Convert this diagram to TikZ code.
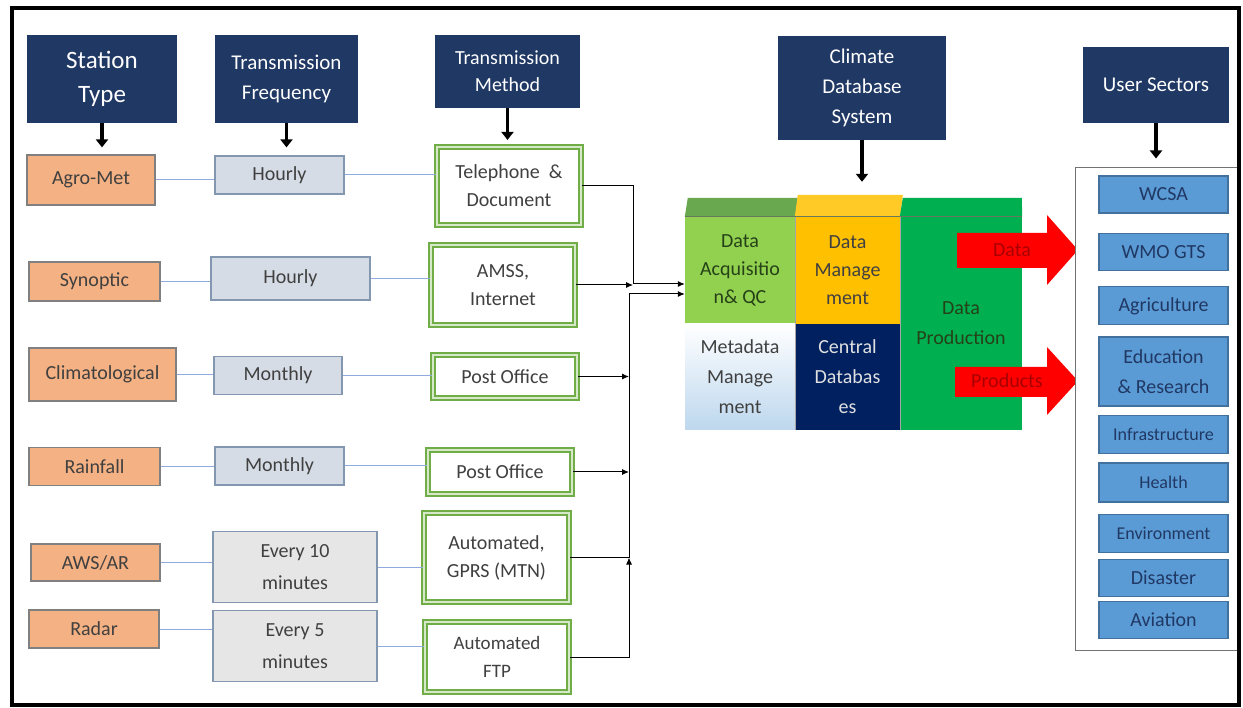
\documentclass[tikz,border=0pt]{standalone}
\usepackage{fontspec}
\setmainfont{Carlito}
\usepackage{tikz}
\usetikzlibrary{positioning,arrows.meta}
\usepackage{xcolor}
\definecolor{navyhd}{HTML}{203864}
\definecolor{stnfill}{HTML}{F4B183}
\definecolor{freqfill}{HTML}{D6DCE5}
\definecolor{freqlite}{HTML}{E7E6E6}
\definecolor{freqline}{HTML}{8497B0}
\definecolor{methgreen}{HTML}{70AD47}
\definecolor{methlite}{HTML}{D5E8C8}
\definecolor{acqgreen}{HTML}{92D050}
\definecolor{acqtop}{HTML}{6AA84F}
\definecolor{acqtext}{HTML}{254117}
\definecolor{mgtgold}{HTML}{FFC000}
\definecolor{prodgreen}{HTML}{00B050}
\definecolor{cdbnavy}{HTML}{002060}
\definecolor{metablue}{HTML}{BDD7EE}
\definecolor{secblue}{HTML}{5B9BD5}
\definecolor{secline}{HTML}{41719C}
\definecolor{linkblue}{HTML}{8FAADC}
\definecolor{txtdark}{HTML}{404040}
\definecolor{arrowred}{HTML}{FF0000}
\definecolor{lblred}{HTML}{A80000}

\begin{document}
\begin{tikzpicture}[x=1pt,y=-1pt,
hdr/.style={rectangle,fill=navyhd,text=white,align=center,inner sep=0pt,font=\fontsize{21}{30}\selectfont},
stn/.style={rectangle,draw=black!50,line width=1.2pt,fill=stnfill,text=txtdark,align=center,inner sep=0pt,font=\fontsize{20}{29}\selectfont},
freq/.style={rectangle,draw=freqline,line width=1.2pt,fill=freqfill,text=txtdark,align=center,inner sep=0pt,font=\fontsize{20}{32}\selectfont},
meth/.style={rectangle,draw=methgreen,double=methlite,double distance=1.2pt,line width=2.2pt,fill=white,text=txtdark,align=center,inner sep=0pt,font=\fontsize{20}{28}\selectfont},
cell/.style={rectangle,inner sep=0pt,align=center,font=\fontsize{20}{28}\selectfont},
sect/.style={rectangle,draw=secline,line width=1.2pt,fill=secblue,text=navyhd,align=center,inner sep=0pt,minimum width=129pt,minimum height=37pt,font=\fontsize{20}{30}\selectfont},
link/.style={draw=linkblue,line width=1pt},
flow/.style={-{Latex[length=7pt,width=6pt]},line width=1pt},
bigarrow/.style={-{Triangle[length=8pt,width=12pt]},line width=3.5pt}
]
\useasboundingbox (0,0) rectangle (1243,708);

% headers
\node[hdr,minimum width=150pt,minimum height=88pt,font=\fontsize{25}{34}\selectfont] (stype) at (102,79) {Station\\Type};
\node[hdr,minimum width=143pt,minimum height=88pt] (tfreq) at (286.5,79) {Transmission\\Frequency};
\node[hdr,minimum width=145pt,minimum height=73pt,font=\fontsize{20}{27}\selectfont] (tmeth) at (507.5,71.5) {Transmission\\Method};
\node[hdr,minimum width=168pt,minimum height=104pt] (cdb) at (862,88) {Climate\\Database\\System};
\node[hdr,minimum width=146pt,minimum height=76pt] (usec) at (1156,85) {User Sectors};

% station types
\node[stn,minimum width=128pt,minimum height=50pt] (agro) at (91,180) {Agro-Met};
\node[stn,minimum width=131pt,minimum height=39pt] (syn) at (94.5,281.5) {Synoptic};
\node[stn,minimum width=147pt,minimum height=53pt] (clim) at (102.5,374.5) {Climatological};
\node[stn,minimum width=131pt,minimum height=38pt] (rain) at (94.5,466.5) {Rainfall};
\node[stn,minimum width=129pt,minimum height=37pt] (aws) at (95.5,562.5) {AWS/AR};
\node[stn,minimum width=130pt,minimum height=38pt] (radar) at (94,629) {Radar};

% frequencies
\node[freq,minimum width=129pt,minimum height=38pt] (hr1) at (279.5,175) {Hourly};
\node[freq,minimum width=159pt,minimum height=43pt] (hr2) at (290.5,278.5) {Hourly};
\node[freq,minimum width=128pt,minimum height=38pt] (mo1) at (278,375.5) {Monthly};
\node[freq,minimum width=129pt,minimum height=38pt] (mo2) at (279.5,466) {Monthly};
\node[freq,fill=freqlite,minimum width=164pt,minimum height=71pt] (ev10) at (295,567) {Every 10\\minutes};
\node[freq,fill=freqlite,minimum width=164pt,minimum height=71pt] (ev5) at (295,646) {Every 5\\minutes};

% methods
\node[meth,minimum width=144pt,minimum height=78pt] (tel) at (509,186) {Telephone~ \&\\Document};
\node[meth,minimum width=144pt,minimum height=80pt] (amss) at (503,285) {AMSS,\\Internet};
\node[meth,minimum width=144pt,minimum height=43pt] (po1) at (505,376.5) {Post Office};
\node[meth,minimum width=144pt,minimum height=44pt] (po2) at (500,472) {Post Office};
\node[meth,minimum width=145pt,minimum height=89pt] (gprs) at (496.5,557.5) {Automated,\\GPRS (MTN)};
\node[meth,minimum width=144pt,minimum height=70pt,font=\fontsize{19}{28}\selectfont] (ftp) at (497,657) {Automated\\FTP};

% database block
\node[cell,fill=acqgreen,text=acqtext,minimum width=110pt,minimum height=107pt] (acq) at (740,270.5) {Data\\Acquisitio\\n\& QC};
\node[cell,fill=mgtgold,text=txtdark,minimum width=105pt,minimum height=107pt] (mgt) at (847.5,270.5) {Data\\Manage\\ment};
\node[cell,top color=white,bottom color=metablue,text=txtdark,minimum width=110pt,minimum height=106pt,font=\fontsize{20}{30}\selectfont] (meta) at (740,377) {Metadata\\Manage\\ment};
\node[cell,fill=cdbnavy,text=black!12,minimum width=105pt,minimum height=106pt,font=\fontsize{20}{30}\selectfont] (cdbs) at (847.5,377) {Central\\Databas\\es};
\node[cell,fill=prodgreen,text=acqtext,minimum width=122pt,minimum height=213pt,font=\fontsize{20}{30}\selectfont] (prod) at (961,323.5) {Data\\Production};
\fill[acqtop] (acq.north west) -- ++(3,-19) -- ++(110,0) -- (acq.north east) -- cycle;
\fill[mgtgold!85!white] (mgt.north west) -- ++(3,-22) -- ++(105,0) -- (mgt.north east) -- cycle;
\fill[prodgreen] (prod.north west) -- ++(3,-19) -- ++(119,0) -- (prod.north east) -- cycle;
\draw[acqtext!70,line width=0.8pt] (acq.north west) -- (prod.north east);
\draw[black!35,line width=0.6pt] (acq.north east) -- (meta.south east);
\draw[black!35,line width=0.6pt] (mgt.north east) -- (cdbs.south east);

% data and products
\fill[arrowred] (957,233) -- (1047,233) -- (1047,215) -- (1078,250) -- (1047,285) -- (1047,268) -- (957,268) -- cycle;
\fill[arrowred] (955,367) -- (1047,367) -- (1047,347) -- (1078,381) -- (1047,415) -- (1047,397) -- (955,397) -- cycle;
\node[text=lblred,font=\fontsize{20}{24}\selectfont] (datalbl) at (1012,250) {Data};
\node[text=lblred,font=\fontsize{20}{24}\selectfont] (prodlbl) at (1007,381) {Products};

% user sectors
\node[draw=black!55,fill=white,line width=1pt,minimum width=162pt,minimum height=482pt,inner sep=0pt] (panel) at (1156,409) {};
\node[sect] (wcsa) at (1163.5,194.5) {WCSA};
\node[sect,below=19pt of wcsa] (wmo) {WMO GTS};
\node[sect,minimum height=38pt,below=15.5pt of wmo] (agri) {Agriculture};
\node[sect,minimum height=69pt,below=11pt of agri] (edu) {Education\\\& Research};
\node[sect,minimum height=38pt,below=8pt of edu,font=\fontsize{18}{22}\selectfont] (infra) {Infrastructure};
\node[sect,minimum height=39pt,below=8.5pt of infra,font=\fontsize{18}{22}\selectfont] (health) {Health};
\node[sect,minimum height=38pt,below=11.5pt of health,font=\fontsize{18}{22}\selectfont] (env) {Environment};
\node[sect,below=5.5pt of env] (dis) {Disaster};
\node[sect,below=3.5pt of dis] (avi) {Aviation};

% header arrows
\draw[bigarrow,shorten >=7pt] (stype.south) -- (stype.south |- agro.north);
\draw[bigarrow,shorten >=8pt] (tfreq.south) -- (tfreq.south |- hr1.north);
\draw[bigarrow,shorten >=6pt] (tmeth.south) -- (tmeth.south |- tel.north);
\draw[bigarrow,shorten >=35pt] (cdb.south) -- (cdb.south |- mgt.north);
\draw[bigarrow,shorten >=9pt] (usec.south) -- (usec.south |- panel.north);

% station - frequency - method
\draw[link] (agro.east) -- (agro.east -| hr1.west);
\draw[link] (syn.east) -- (syn.east -| hr2.west);
\draw[link] (clim.east) -- (clim.east -| mo1.west);
\draw[link] (rain.east) -- (rain.east -| mo2.west);
\draw[link] (aws.east) -- (aws.east -| ev10.west);
\draw[link] (radar.east) -- (radar.east -| ev5.west);
\draw[link] (hr1.east) -- (hr1.east -| tel.west);
\draw[link] (hr2.east) -- (hr2.east -| amss.west);
\draw[link] (mo1.east) -- (mo1.east -| po1.west);
\draw[link] (mo2.east) -- (mo2.east -| po2.west);
\draw[link] (ev10.east) -- (ev10.east -| gprs.west);
\draw[link] (ev5.east) -- (ev5.east -| ftp.west);

% methods into the database
\coordinate (bus) at (629,294);
\draw[flow] (tel.east) -- ++(51,0) coordinate (tbend) |- ([yshift=-13.5pt]acq.west);
\draw[flow] (amss.east) -- (amss.east -| tbend);
\draw[flow] (po1.east) -- (po1.east -| bus);
\draw[flow] (po2.east) -- (po2.east -| bus);
\draw[flow] (gprs.east) -| (bus) -- (bus -| acq.west);
\draw[flow] (ftp.east) -| (bus |- gprs.east);

% frame
\draw[line width=4pt] (12,8) rectangle (1239,705);
\end{tikzpicture}
\end{document}
